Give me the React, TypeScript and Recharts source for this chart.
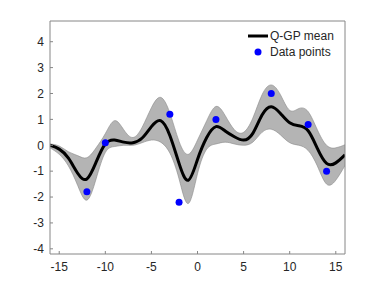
import { Area, ComposedChart, Line, Scatter, XAxis, YAxis } from 'recharts';

const xs = [-16, -15, -14, -13, -12, -11, -10, -9, -8, -7, -6, -5, -4, -3, -2, -1, 0, 1, 2, 3, 4, 5, 6, 7, 8, 9, 10, 11, 12, 13, 14, 15, 16];
const meanVals = [0, -0.15, -0.5, -1.08, -1.3, -0.65, 0.05, 0.2, 0.12, 0.1, 0.28, 0.72, 0.95, 0.38, -0.7, -1.35, -0.55, 0.3, 0.72, 0.55, 0.33, 0.2, 0.46, 1.17, 1.49, 1.23, 0.87, 0.75, 0.56, -0.12, -0.7, -0.68, -0.37];
const lowerVals = [-0.1, -0.35, -0.8, -1.55, -2.12, -1.3, -0.28, -0.05, 0, 0, 0.1, 0.2, 0.12, -0.3, -1.3, -2.25, -1.1, -0.15, 0.05, 0.12, 0.05, 0, 0.12, 0.5, 0.62, 0.4, 0.1, 0, -0.2, -0.8, -1.5, -1.35, -0.78];
const upperVals = [0.05, -0.03, -0.25, -0.4, -0.48, -0.1, 0.45, 0.95, 0.6, 0.3, 0.7, 1.45, 1.85, 1.25, 0.15, -0.35, 0.2, 0.95, 1.5, 1.15, 0.6, 0.5, 1.05, 1.95, 2.33, 1.95, 1.35, 1.42, 1.3, 0.6, 0, -0.1, 0.02];

const pointX = [-12, -10, -3, -2, 2, 8, 12, 14];
const pointY = [-1.8, 0.1, 1.2, -2.2, 1.0, 2.0, 0.8, -1.0];

const xTicks = [-15, -10, -5, 0, 5, 10, 15];
const yTicks = [-4, -3, -2, -1, 0, 1, 2, 3, 4];

const rows = xs.map((x, i) => ({ x, mean: meanVals[i], band: [lowerVals[i], upperVals[i]] }));
const points = pointX.map((x, i) => ({ x, y: pointY[i] }));

const axisColor = '#868686';
const textColor = '#262626';
const font = '"Liberation Sans", Arial, sans-serif';

// legend drawn on top of the plot, MATLAB style (no box)
const LegendBox = () => (
  <svg width={110} height={34} style={{ position: 'absolute', left: 245, top: 28 }}>
    <line x1={3} y1={8} x2={23} y2={8} stroke="#000" strokeWidth={3} />
    <text x={25} y={12} fontSize={12} fill={textColor} fontFamily={font}>Q-GP mean</text>
    <circle cx={13} cy={24} r={3.5} fill="#0000ff" />
    <text x={25} y={28} fontSize={12} fill={textColor} fontFamily={font}>Data points</text>
  </svg>
);

export default function App() {
  return (
    <div style={{ position: 'absolute', left: 0, top: 0, width: 382, height: 286, background: '#fff' }}>
      <ComposedChart
        width={382}
        height={286}
        data={rows}
        margin={{ top: 20, right: 36, bottom: 0, left: 0 }}
        style={{ fontFamily: font }}
      >
        <XAxis
          dataKey="x"
          type="number"
          domain={[-16, 16]}
          ticks={xTicks}
          allowDataOverflow
          height={32}
          stroke={axisColor}
          tickSize={-3}
          tickMargin={11}
          tick={{ fill: textColor, fontSize: 12 }}
        />
        <XAxis
          xAxisId="top"
          orientation="top"
          dataKey="x"
          type="number"
          domain={[-16, 16]}
          ticks={xTicks}
          allowDataOverflow
          height={1}
          stroke={axisColor}
          tickSize={-3}
          tick={false}
        />
        <YAxis
          type="number"
          domain={[-4.2, 4.8]}
          ticks={yTicks}
          allowDataOverflow
          width={50}
          stroke={axisColor}
          tickSize={-3}
          tickMargin={9}
          tick={{ fill: textColor, fontSize: 12 }}
        />
        <YAxis
          yAxisId="right"
          orientation="right"
          type="number"
          domain={[-4.2, 4.8]}
          ticks={yTicks}
          allowDataOverflow
          width={1}
          stroke={axisColor}
          tickSize={-3}
          tick={false}
        />
        <Area
          type="natural"
          dataKey="band"
          fill="#b4b4b4"
          fillOpacity={1}
          stroke="#8a8a8a"
          strokeWidth={0.6}
          isAnimationActive={false}
        />
        <Line
          type="natural"
          dataKey="mean"
          stroke="#000"
          strokeWidth={3}
          dot={false}
          isAnimationActive={false}
        />
        {/* same domains as the bottom/left axes, so this also makes the box axes draw */}
        <Scatter
          xAxisId="top"
          yAxisId="right"
          data={points}
          dataKey="y"
          fill="#0000ff"
          shape={(p: any) => <circle cx={p.cx} cy={p.cy} r={3.5} fill="#0000ff" />}
          isAnimationActive={false}
        />
      </ComposedChart>
      <LegendBox />
    </div>
  );
}
